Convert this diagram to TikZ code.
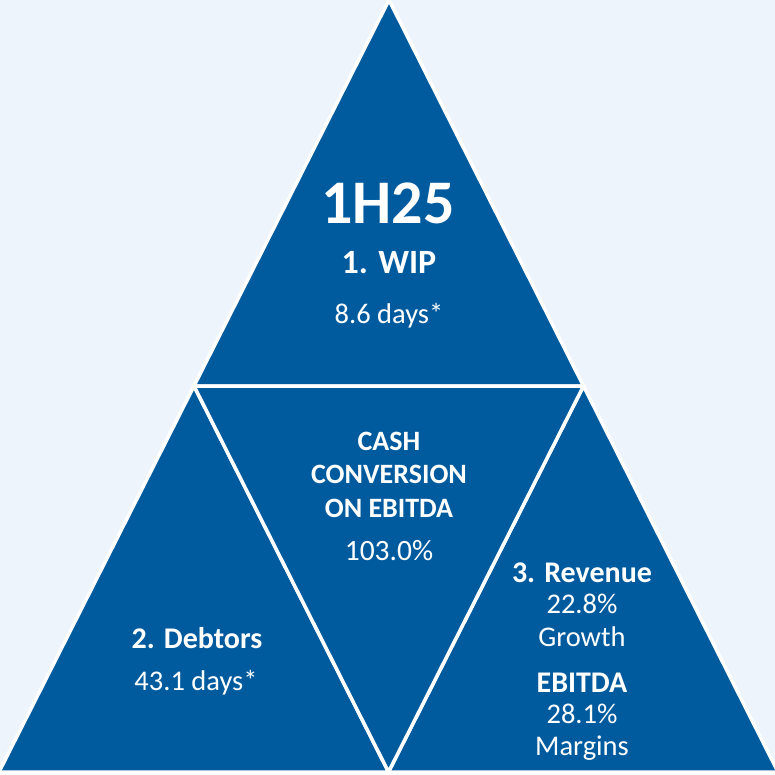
\documentclass[tikz,border=0pt]{standalone}
\usepackage{fontspec}
\usetikzlibrary{calc}
\setmainfont{Carlito}
\definecolor{bg}{RGB}{238,244,251}
\definecolor{tri}{RGB}{0,91,158}
\begin{document}
\begin{tikzpicture}[x=1pt,y=-1pt,
  piece/.style={fill=tri,draw=white,line width=3.5pt,line join=miter},
  lbl/.style={text=white,anchor=base,inner sep=0pt},
  bb/.style={lbl,font=\fontsize{30}{32}\bfseries\selectfont},
  rr/.style={lbl,font=\fontsize{28.5}{32}\selectfont},
  cb/.style={lbl,font=\fontsize{28}{30}\bfseries\selectfont}]
\useasboundingbox[fill=bg] (0,0) rectangle (775,774);
\coordinate (A) at (389,0);
\coordinate (B) at (-1,772);
\coordinate (C) at (778,772);
\coordinate (AB) at ($(A)!0.5!(B)$);
\coordinate (AC) at ($(A)!0.5!(C)$);
\coordinate (BC) at ($(B)!0.5!(C)$);
\draw[piece] (A) -- (AB) -- (AC) -- cycle;
\draw[piece] (AB) -- (B) -- (BC) -- cycle;
\draw[piece] (AC) -- (BC) -- (C) -- cycle;
\draw[piece] (AB) -- (AC) -- (BC) -- cycle;
% top
\node[lbl,font=\fontsize{62}{66}\bfseries\selectfont] (t1) at (388,223) {1H25};
\node[lbl,font=\fontsize{34}{36}\bfseries\selectfont] (t2) at (389,273) {1. WIP};
\node[rr] (t3) at (389,323) {8.6 days*};
% centre
\node[cb] (c1) at (389,450) {CASH};
\node[cb] (c2) at (389,483) {CONVERSION};
\node[cb] (c3) at (389,517) {ON EBITDA};
\node[rr,font=\fontsize{29.5}{32}\selectfont] (c4) at (389,560) {103.0\%};
% left
\node[bb] (l1) at (197,648) {2. Debtors};
\node[rr] (l2) at (196,690) {43.1 days*};
% right
\node[bb] (r1) at (582,582) {3. Revenue};
\node[rr] (r2) at (582,613) {22.8\%};
\node[rr] (r3) at (582,646) {Growth};
\node[bb] (r4) at (582,692) {EBITDA};
\node[rr] (r5) at (582,723) {28.1\%};
\node[rr] (r6) at (582,755) {Margins};
\end{tikzpicture}
\end{document}
